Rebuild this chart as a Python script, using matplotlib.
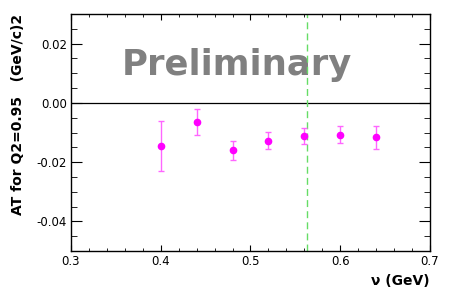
import matplotlib
matplotlib.use("Agg")
import matplotlib.pyplot as plt
from matplotlib.ticker import MultipleLocator, FormatStrFormatter

nu = [0.40, 0.44, 0.48, 0.52, 0.56, 0.60, 0.64]
at = [-0.0146, -0.0064, -0.0160, -0.0127, -0.0112, -0.0107, -0.0116]
at_err = [0.0085, 0.0045, 0.0032, 0.0028, 0.0026, 0.0028, 0.0039]
nu_cut = 0.563

fig = plt.figure(figsize=(4.77, 2.96), dpi=100)
ax = fig.add_axes([0.1488, 0.152, 0.7527, 0.8007])

ax.axhline(0.0, color="black", lw=0.9, zorder=1)
ax.axvline(nu_cut, color="#66dd66", lw=1.0, ls=(0, (5, 3)), zorder=1)

ax.errorbar(nu, at, yerr=at_err, fmt="none", ecolor="#ff66ff", elinewidth=1.0,
            capsize=2, capthick=1.0, zorder=2)
ax.plot(nu, at, "o", color="magenta", ms=4.5, zorder=3)

ax.text(0.462, 0.7426, "Preliminary", transform=ax.transAxes, ha="center", va="baseline",
        fontsize=25.5, fontweight="bold", color="#808080", zorder=0)

ax.set_xlim(0.3, 0.7)
ax.set_ylim(-0.05, 0.03)
ax.xaxis.set_major_locator(MultipleLocator(0.1))
ax.xaxis.set_minor_locator(MultipleLocator(0.02))
ax.yaxis.set_major_locator(MultipleLocator(0.02))
ax.yaxis.set_minor_locator(MultipleLocator(0.005))
ax.xaxis.set_major_formatter(FormatStrFormatter("%.1f"))
ax.yaxis.set_major_formatter(FormatStrFormatter("%.2f"))

ax.tick_params(axis="x", which="major", direction="in", length=4.5, top=True, labelsize=8.5, pad=3)
ax.tick_params(axis="x", which="minor", direction="in", length=2.2, top=True)
ax.tick_params(axis="y", which="major", direction="in", length=8, right=True, labelsize=8.5, pad=3)
ax.tick_params(axis="y", which="minor", direction="in", length=4.3, right=True)
for s in ax.spines.values():
    s.set_linewidth(1.0)

ax.set_xlabel("ν (GeV)", fontsize=10, fontweight="bold", loc="right", labelpad=4.5)
ax.set_ylabel("AT for Q2=0.95   (GeV/c)2", fontsize=10, fontweight="bold", loc="top", labelpad=8.5)

fig.savefig("out.png", dpi=100)
